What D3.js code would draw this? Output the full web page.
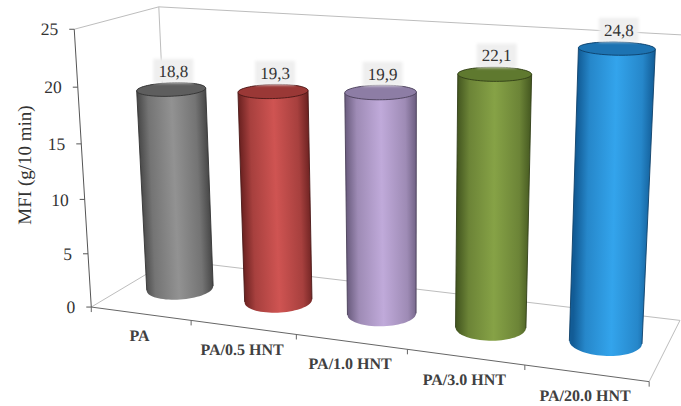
<!DOCTYPE html>
<html>
<head>
<meta charset="utf-8">
<script src="https://cdn.jsdelivr.net/npm/d3@7/dist/d3.min.js"></script>
<style>
html,body{margin:0;padding:0;background:#fff}
svg{display:block}
text{font-family:"Liberation Serif",serif;text-rendering:geometricPrecision}
</style>
</head>
<body>
<svg id="chart" width="681" height="406"></svg>
<script>
// Melt flow index per formulation
const categories = ["PA", "PA/0.5 HNT", "PA/1.0 HNT", "PA/3.0 HNT", "PA/20.0 HNT"];
const mfiValues = [18.8, 19.3, 19.9, 22.1, 24.8];
const valueLabels = ["18,8", "19,3", "19,9", "22,1", "24,8"];
const yTicks = [0, 5, 10, 15, 20, 25];
const yTitle = "MFI (g/10 min)";

// Shading per cylinder: [edge, middle, cap]
const barShades = [
  ["#474747", "#929292", "#5e5e5e"],
  ["#6a2120", "#cf5452", "#9a3836"],
  ["#6a5c7e", "#c0aada", "#8d7da5"],
  ["#445720", "#86a246", "#5f792f"],
  ["#125c96", "#33a4ec", "#1d73b2"]
];

// World box: x in [0,1] along categories, h in [0,1] up the value axis, z in [0,1] into the page.
// Each entry ties a box corner to where it lands on the page; the camera is solved from these.
const boxCorners = [
  { w: [0, 0, 0], p: [90.7, 307] },
  { w: [1, 0, 0], p: [649, 382] },
  { w: [0, 1, 0], p: [75, 29] },
  { w: [0, 0, 1], p: [171, 260] },
  { w: [1, 0, 1], p: [680, 320] },
  { w: [0, 1, 1], p: [158, 7] },
  { w: [1, 1, 1], p: [695, 35.7] }
];

// Least-squares pinhole camera (3x4 matrix with its last term fixed to 1)
function solveCamera(corners) {
  const rows = [], rhs = [];
  corners.forEach(({ w: [x, y, z], p: [u, v] }) => {
    rows.push([x, y, z, 1, 0, 0, 0, 0, -u * x, -u * y, -u * z]); rhs.push(u);
    rows.push([0, 0, 0, 0, x, y, z, 1, -v * x, -v * y, -v * z]); rhs.push(v);
  });
  const n = 11;
  const m = d3.range(n).map(i => d3.range(n + 1).map(j =>
    d3.sum(rows, (r, k) => r[i] * (j < n ? r[j] : rhs[k]))));
  for (let c = 0; c < n; c++) {
    let best = c;
    for (let r = c + 1; r < n; r++) if (Math.abs(m[r][c]) > Math.abs(m[best][c])) best = r;
    [m[c], m[best]] = [m[best], m[c]];
    for (let r = 0; r < n; r++) {
      if (r === c) continue;
      const f = m[r][c] / m[c][c];
      for (let j = c; j <= n; j++) m[r][j] -= f * m[c][j];
    }
  }
  return m.map((row, i) => row[n] / row[i]);
}
const cam = solveCamera(boxCorners);
const project = (x, h, z) => {
  const d = cam[8] * x + cam[9] * h + cam[10] * z + 1;
  return [(cam[0] * x + cam[1] * h + cam[2] * z + cam[3]) / d,
          (cam[4] * x + cam[5] * h + cam[6] * z + cam[7]) / d];
};

const xBand = d3.scaleBand().domain(categories).range([0, 1]);
const yScale = d3.scaleLinear().domain([0, 25]).range([0, 1]);

const svg = d3.select("#chart");
const defs = svg.append("defs");
defs.append("filter").attr("id", "soft").attr("x", "-30%").attr("y", "-30%")
  .attr("width", "160%").attr("height", "160%")
  .append("feGaussianBlur").attr("stdDeviation", 1.6);

const segment = (a, b, stroke, width) => svg.append("line")
  .attr("x1", a[0]).attr("y1", a[1]).attr("x2", b[0]).attr("y2", b[1])
  .attr("stroke", stroke).attr("stroke-width", width);

// Back wall and floor edges
const gridColor = "#bdbdbd";
segment(project(0, 1, 0), project(0, 1, 1), gridColor, 1);
segment(project(0, 1, 1), project(1, 1, 1), gridColor, 1);
segment(project(0, 0, 1), project(0, 1, 1), gridColor, 1);
segment(project(0, 0, 0), project(0, 0, 1), gridColor, 1);
segment(project(0, 0, 1), project(1, 0, 1), gridColor, 1);
segment(project(1, 0, 0), project(1, 0, 1), gridColor, 1);

// Value axis
const axisColor = "#555";
segment(project(0, 0, 0), project(0, 1, 0), axisColor, 1);
yTicks.forEach(t => {
  const p = project(0, yScale(t), 0);
  segment([p[0] - 5, p[1]], p, axisColor, 1);
  svg.append("text").attr("x", p[0] - 16).attr("y", p[1]).attr("dy", "0.35em")
    .attr("text-anchor", "end").attr("font-size", 17.5).attr("fill", "#333").text(t);
});
svg.append("text").attr("transform", "translate(24,165) rotate(-90)")
  .attr("text-anchor", "middle").attr("dy", "0.35em")
  .attr("font-size", 19).attr("fill", "#333").text(yTitle);

// Category axis
segment(project(0, 0, 0), project(1, 0, 0), "#666", 1);
d3.range(categories.length + 1).forEach(i => {
  const p = project(i / categories.length, 0, 0);
  segment(p, [p[0], p[1] + 5], "#666", 1);
});
categories.forEach(c => {
  const p = project(xBand(c) + xBand.bandwidth() / 2, 0, 0);
  svg.append("text").attr("x", p[0] - 1).attr("y", p[1] + 22).attr("dy", "0.35em")
    .attr("text-anchor", "middle").attr("font-size", 16).attr("font-weight", "bold")
    .attr("fill", "#404040").text(c);
});

// Cylinders: project their rim circles and wrap the body around them
const radiusX = 0.06;
const radiusZ = 0.22;
const rim = (cx, h, cz) => d3.range(0, 72).map(i => {
  const t = i / 72 * 2 * Math.PI;
  return project(cx + radiusX * Math.cos(t), h, cz + radiusZ * Math.sin(t));
});
const closed = d3.line().curve(d3.curveLinearClosed);

categories.forEach((c, i) => {
  const cx = xBand(c) + xBand.bandwidth() / 2, cz = 0.5;
  const h = yScale(mfiValues[i]);
  const [edge, mid, cap] = barShades[i];
  const top = rim(cx, h, cz), bottom = rim(cx, 0, cz);
  const left = d3.least(top, d => d[0]), right = d3.greatest(top, d => d[0]);

  const grad = defs.append("linearGradient").attr("id", "shade" + i)
    .attr("gradientUnits", "userSpaceOnUse")
    .attr("x1", left[0]).attr("y1", left[1]).attr("x2", right[0]).attr("y2", right[1]);
  [[0, edge], [0.16, d3.interpolateRgb(edge, mid)(0.6)], [0.5, mid],
   [0.84, d3.interpolateRgb(edge, mid)(0.6)], [1, edge]].forEach(([o, col]) =>
    grad.append("stop").attr("offset", o).attr("stop-color", col));

  const body = d3.polygonHull(top.concat(bottom));
  svg.append("path").attr("d", closed(body)).attr("fill", `url(#shade${i})`);
  // Dark side edges
  const bl = d3.least(bottom, d => d[0]), br = d3.greatest(bottom, d => d[0]);
  const dark = d3.color(edge).darker(1).formatHex();
  segment(left, bl, dark, 0.9);
  segment(right, br, dark, 0.9);
  svg.append("path").attr("d", closed(top)).attr("fill", cap)
    .attr("stroke", dark).attr("stroke-width", 0.9);
});

// Value labels on soft pale plates
categories.forEach((c, i) => {
  const cx = xBand(c) + xBand.bandwidth() / 2;
  const p = project(cx, yScale(mfiValues[i]), 0.5);
  const lx = p[0] + 2, ly = p[1] - 18.5;
  svg.append("rect").attr("x", lx - 20).attr("y", ly - 12).attr("width", 40).attr("height", 24)
    .attr("fill", "#efefef").attr("filter", "url(#soft)");
  svg.append("text").attr("x", lx).attr("y", ly).attr("dy", "0.35em")
    .attr("text-anchor", "middle").attr("font-size", 17).attr("fill", "#333")
    .text(valueLabels[i]);
});
</script>
</body>
</html>
